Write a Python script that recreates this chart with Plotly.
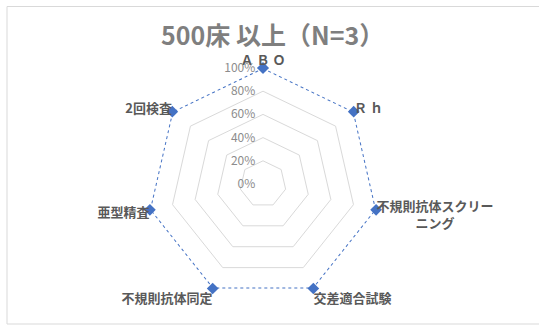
import plotly.graph_objects as go

# Radar chart: blood-transfusion test implementation rate, hospitals with 500+ beds
categories = ["Ａ Ｂ Ｏ", "Ｒ ｈ", "不規則抗体スクリー<br>　　　ニング", "交差適合試験",
              "不規則抗体同定", "亜型精査", "2回検査"]
values = [1.0, 1.0, 1.0, 1.0, 1.0, 1.0, 1.0]
radial_ticks = [0, 0.2, 0.4, 0.6, 0.8, 1.0]
radial_labels = ["0%", "20%", "40%", "60%", "80%", "100%"]
title_text = "500床 以上（N=3）"

W, H = 539, 325
cx, cy, R = 263, 184, 116

font_family = "Noto Sans CJK JP"
blue = "#4472C4"

fig = go.Figure()
fig.add_trace(go.Scatterpolar(
    r=values + values[:1],
    theta=categories + categories[:1],
    mode="lines+markers",
    line=dict(color=blue, width=2, dash="dot"),
    marker=dict(symbol="diamond", size=9, color=blue),
    showlegend=False,
    hoverinfo="skip",
))

# Trailing no-break spaces keep the right-anchored radial labels clear of the spoke
pad = "\u00a0\u00a0"

fig.update_layout(
    width=W, height=H,
    margin=dict(l=0, r=0, t=0, b=0),
    paper_bgcolor="white",
    plot_bgcolor="white",
    font=dict(family=font_family),
    polar=dict(
        domain=dict(x=[(cx - R) / W, (cx + R) / W],
                    y=[(H - cy - R) / H, (H - cy + R) / H]),
        gridshape="linear",
        bgcolor="white",
        radialaxis=dict(
            range=[0, 1],
            tickvals=radial_ticks,
            ticktext=[t + pad for t in radial_labels],
            angle=90,
            tickangle=90,
            side="counterclockwise",
            showline=False,
            ticks="",
            gridcolor="#d9d9d9",
            gridwidth=1.3,
            tickfont=dict(size=12, color="#8c8c8c", family=font_family),
        ),
        angularaxis=dict(
            direction="clockwise",
            rotation=90,
            showline=False,
            showgrid=False,
            ticks="",
            tickfont=dict(size=13, color="#595959", family=font_family,
                          weight="bold"),
        ),
    ),
)

# Chart title
fig.add_annotation(
    text=title_text,
    x=272 / W, y=(H - 34) / H, xref="paper", yref="paper",
    xanchor="center", yanchor="middle", showarrow=False,
    font=dict(size=25, color="#7f7f7f", family=font_family, weight="bold"),
)

# Chart-area border
fig.add_shape(
    type="rect", xref="paper", yref="paper",
    x0=7 / W, x1=(W + 5) / W, y0=(H - 324) / H, y1=(H - 6.5) / H,
    line=dict(color="#d9d9d9", width=1), fillcolor="rgba(0,0,0,0)",
    layer="below",
)

fig.write_html("out.html")
